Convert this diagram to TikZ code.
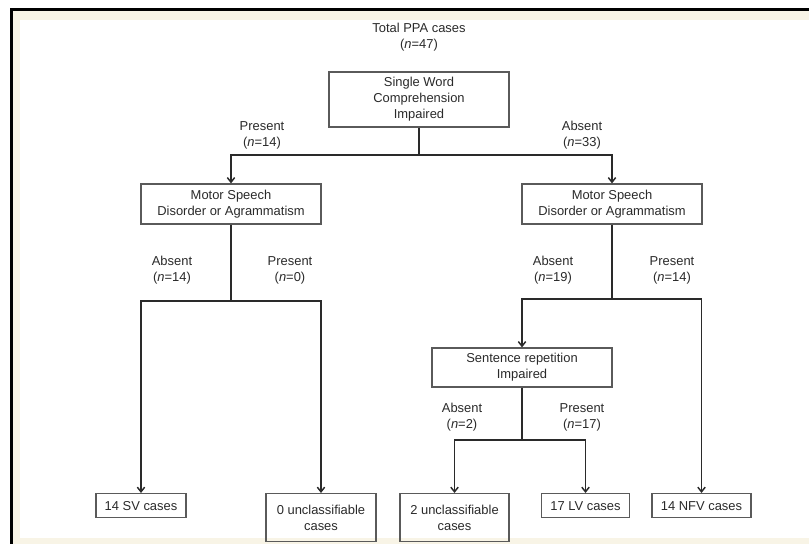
\documentclass[tikz,border=0pt]{standalone}
\usepackage{fontspec}
\setmainfont{Liberation Sans}
\usetikzlibrary{arrows.meta,positioning}
\definecolor{cream}{HTML}{F8F4E6}
\definecolor{boxgrey}{HTML}{5A5A5A}
\definecolor{txtgrey}{HTML}{2A2A2A}
\begin{document}
\begin{tikzpicture}[x=0.75pt,y=-0.75pt,
	box/.style={draw=boxgrey, line width=0.9pt, text=txtgrey, align=center, inner sep=2pt, font=\fontsize{9.7}{12}\selectfont},
	lab/.style={text=txtgrey, align=center, inner sep=0pt, font=\fontsize{9.7}{12}\selectfont},
	arr/.style={draw=txtgrey, line width=1.1pt, -{Straight Barb[length=3.5pt,width=5.5pt]}},
	ln/.style={draw=txtgrey, line width=1.1pt}]
		\useasboundingbox (0,0) rectangle (809,544);
		\fill[cream] (13,11) rectangle (809,544);
		\fill[white] (20,20) rectangle (809,538);
		\draw[line width=2.3pt] (10,9.5) -- (809,9.5);
		\draw[line width=2.3pt] (11.5,8) -- (11.5,544);

		\node[lab] (total) at (419,37) {Total PPA cases\\(\textit{n}=47)};
		\node[box, minimum width=135pt, minimum height=41.25pt] (single) at (419,99.5) {Single Word\\Comprehension\\Impaired};
		\node[box, minimum width=135pt, minimum height=30pt] (msdL) at (231,204) {Motor Speech\\Disorder or Agrammatism};
		\node[box, minimum width=135pt, minimum height=30pt] (msdR) at (612,204) {Motor Speech\\Disorder or Agrammatism};
		\node[box, minimum width=135pt, minimum height=29.25pt] (sent) at (522,367.5) {Sentence repetition\\Impaired};

		\node[box, anchor=north, minimum width=67.5pt, minimum height=18pt] (sv) at (141,493) {14 SV cases};
		\node[box, anchor=north, minimum width=82.5pt, minimum height=36pt] (unc0) at (321,493) {0 unclassifiable\\cases};
		\node[box, anchor=north, minimum width=81.75pt, minimum height=36pt] (unc2) at (454.5,493) {2 unclassifiable\\cases};
		\node[box, anchor=north, minimum width=66pt, minimum height=18pt] (lv) at (585.5,493) {17 LV cases};
		\node[box, anchor=north, minimum width=74.25pt, minimum height=18pt] (nfv) at (701.5,493) {14 NFV cases};

		% branch points
		\coordinate (j1) at (419,155);
		\coordinate (j2) at (231,301);
		\coordinate (j3) at (612,299);
		\coordinate (j4) at (522,440);

		\draw[ln] (single.south) -- (j1);
		\draw[arr] (j1) -| (msdL.north);
		\draw[arr] (j1) -| (msdR.north);

		\draw[ln] (msdL.south) -- (j2);
		\draw[arr] (j2) -| (sv.north);
		\draw[arr] (j2) -| (unc0.north);

		\draw[ln] (msdR.south) -- (j3);
		\draw[arr] (j3) -| (sent.north);
		\draw[arr] (j3) -| (nfv.north);

		\draw[ln] (sent.south) -- (j4);
		\draw[arr] (j4) -| (unc2.north);
		\draw[arr] (j4) -| (lv.north);

		\node[lab] (presA) at (262,135) {Present\\(\textit{n}=14)};
		\node[lab] (absA) at (582,135) {Absent\\(\textit{n}=33)};
		\node[lab] (absB) at (172,270) {Absent\\(\textit{n}=14)};
		\node[lab] (presB) at (290,270) {Present\\(\textit{n}=0)};
		\node[lab] (absC) at (553,270) {Absent\\(\textit{n}=19)};
		\node[lab] (presC) at (672,270) {Present\\(\textit{n}=14)};
		\node[lab] (absD) at (462,417) {Absent\\(\textit{n}=2)};
		\node[lab] (presD) at (582,417) {Present\\(\textit{n}=17)};
	\end{tikzpicture}
\end{document}
